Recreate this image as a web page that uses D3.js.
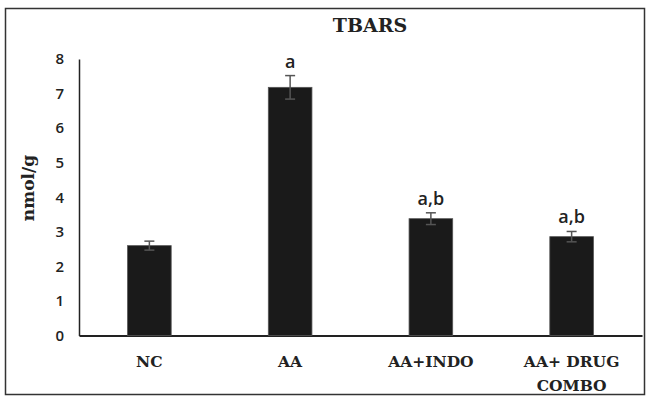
<!DOCTYPE html>
<html><head><meta charset="utf-8">
<script src="https://cdn.jsdelivr.net/npm/d3@7"></script>
<style>body{margin:0;background:#fff}svg{display:block}</style>
</head><body>
<script>
const categories = ["NC", "AA", "AA+INDO", "AA+ DRUG COMBO"];
const categoryLines = [["NC"], ["AA"], ["AA+INDO"], ["AA+ DRUG", "COMBO"]];
const values = [2.6, 7.18, 3.38, 2.86];
const errors = [0.13, 0.34, 0.17, 0.15];
const sigLabels = ["", "a", "a,b", "a,b"];
const yTicks = [0, 1, 2, 3, 4, 5, 6, 7, 8];
const title = "TBARS";
const yTitle = "nmol/g";

const W = 647, H = 399;
const svg = d3.select("body").append("svg").attr("width", W).attr("height", H);
svg.append("rect").attr("x", 5.5).attr("y", 8.5).attr("width", 639).attr("height", 386)
  .attr("fill", "#fff").attr("stroke", "#333").attr("stroke-width", 1.5);

const x0 = 79, x1 = 642, yTop = 59, yBot = 335.5;
const x = d3.scaleBand().domain(categories).range([x0, x1]).paddingInner(0.69).paddingOuter(0.345);
const y = d3.scaleLinear().domain([0, 8]).range([yBot, yTop]);

// y axis
const ya = svg.append("g").attr("transform", `translate(${x0},0)`)
  .call(d3.axisLeft(y).tickValues(yTicks).tickSize(0).tickPadding(15));
ya.select(".domain").attr("stroke", "#222").attr("stroke-width", 1.5);
ya.selectAll("text").attr("font-family", "'Open Sans', Lato, sans-serif").attr("font-size", 15)
  .attr("font-weight", 600).attr("fill", "#222");

// x axis
const xa = svg.append("g").attr("transform", `translate(0,${yBot})`)
  .call(d3.axisBottom(x).tickSize(0).tickFormat(""));
xa.select(".domain").attr("stroke", "#222").attr("stroke-width", 2);

// bars
svg.selectAll("rect.bar").data(values).enter().append("rect").attr("class", "bar")
  .attr("x", (d, i) => x(categories[i])).attr("width", x.bandwidth())
  .attr("y", d => y(d)).attr("height", d => yBot - y(d))
  .attr("fill", "#1a1a1a").attr("stroke", "#555").attr("stroke-width", 0.8);

// error bars
const eg = svg.append("g").attr("stroke", "#555").attr("stroke-width", 1.5);
values.forEach((v, i) => {
  const cx = x(categories[i]) + x.bandwidth() / 2;
  eg.append("line").attr("x1", cx).attr("x2", cx).attr("y1", y(v + errors[i])).attr("y2", y(v - errors[i]));
  eg.append("line").attr("x1", cx - 5).attr("x2", cx + 5).attr("y1", y(v + errors[i])).attr("y2", y(v + errors[i]));
  eg.append("line").attr("x1", cx - 5).attr("x2", cx + 5).attr("y1", y(v - errors[i])).attr("y2", y(v - errors[i]));
});

// significance labels
svg.selectAll("text.sig").data(sigLabels).enter().append("text").attr("class", "sig")
  .attr("x", (d, i) => x(categories[i]) + x.bandwidth() / 2)
  .attr("y", (d, i) => y(values[i] + errors[i]) - 8)
  .attr("text-anchor", "middle").attr("font-family", "'Open Sans', Lato, sans-serif")
  .attr("font-size", 18).attr("font-weight", 600).attr("fill", "#222").text(d => d);

// category labels
categoryLines.forEach((lines, i) => {
  const cx = x(categories[i]) + x.bandwidth() / 2;
  const t = svg.append("text").attr("x", cx).attr("y", 367).attr("text-anchor", "middle")
    .attr("font-family", "'DejaVu Serif', serif").attr("font-weight", "bold").attr("font-size", 15.5)
    .attr("fill", "#222");
  lines.forEach((l, j) => t.append("tspan").attr("x", cx).attr("dy", j ? 24 : 0).text(l));
});

// title
svg.append("text").attr("x", 370).attr("y", 32).attr("text-anchor", "middle")
  .attr("font-family", "'DejaVu Serif', serif").attr("font-weight", "bold").attr("font-size", 19)
  .attr("fill", "#222").text(title);

// y title
svg.append("text").attr("transform", "translate(34,188) rotate(-90)").attr("text-anchor", "middle")
  .attr("font-family", "'DejaVu Serif', serif").attr("font-weight", "bold").attr("font-size", 17)
  .attr("fill", "#222").text(yTitle);
</script>
</body></html>
